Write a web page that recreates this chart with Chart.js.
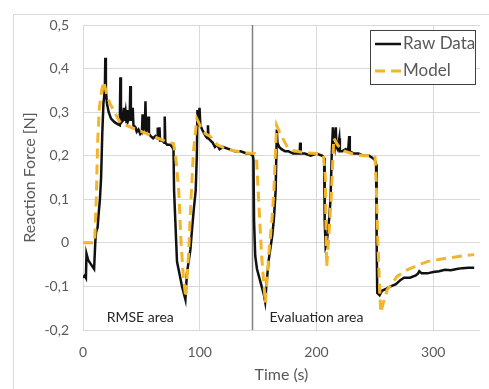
<!DOCTYPE html>
<html>
<head>
<meta charset="utf-8">
<script src="https://cdn.jsdelivr.net/npm/chart.js@4/dist/chart.umd.min.js"></script>
<style>
    html, body { margin: 0; padding: 0; background: #fff; overflow: hidden; }
    #wrap { position: relative; width: 489px; height: 389px; }
</style>
</head>
<body>
<div id="wrap"><canvas id="forceChart" width="489" height="389"></canvas></div>
<script>
// ========================================
// DATA
// ========================================
const rawTime = [0, 1.5, 2.5, 3, 4.5, 7, 9.5, 10.5, 11.2, 12.5, 13.5, 14.5, 15.5, 16.5, 17.5, 18.7, 19.1, 19.6, 20.5, 22, 24, 27, 30, 31.5, 32, 32.5, 34, 35, 35.5, 36.5, 37.3, 38, 38.6, 40, 40.5, 41, 42, 42.6, 43.2, 45, 46, 47.5, 49, 50.5, 51, 51.7, 53, 53.5, 54, 55, 55.8, 56.5, 58, 60, 62, 63.5, 64, 64.5, 65.5, 66, 68, 69.5, 70, 70.5, 72, 75, 77.5, 78, 80.5, 84.8, 87.7, 89, 92, 93.5, 95, 96.5, 97.5, 98, 98.6, 99.3, 99.8, 100.5, 102, 104, 105, 106.5, 107, 107.5, 109, 111, 113, 115, 117, 120, 125, 130, 135, 140, 143, 145.5, 146, 146.5, 147.5, 149, 152, 155, 156, 157, 159, 162, 163.5, 165, 166, 166.5, 168, 170, 173, 176, 180, 184, 185.5, 186, 186.5, 190, 195, 200, 205, 206.5, 207, 207.8, 208.5, 209.5, 211, 212, 213, 214, 214.7, 215.5, 216.5, 217, 218, 219.5, 220, 222, 225, 227, 228, 228.5, 232, 236, 240, 245, 248, 250, 251, 251.5, 252, 254, 256, 260, 263.5, 268, 272, 275, 280, 285, 287, 288, 290, 295, 300, 305, 310, 315, 320, 325, 330, 335];
const rawForce = [-0.08, -0.075, -0.08, -0.025, -0.04, -0.05, -0.06, 0.0, 0.025, 0.035, 0.07, 0.1, 0.15, 0.25, 0.32, 0.35, 0.425, 0.35, 0.32, 0.3, 0.285, 0.277, 0.272, 0.27, 0.38, 0.275, 0.28, 0.31, 0.28, 0.3, 0.275, 0.305, 0.28, 0.29, 0.36, 0.28, 0.3, 0.31, 0.27, 0.265, 0.255, 0.26, 0.25, 0.255, 0.295, 0.26, 0.27, 0.325, 0.255, 0.275, 0.29, 0.25, 0.245, 0.24, 0.245, 0.24, 0.265, 0.24, 0.265, 0.235, 0.235, 0.23, 0.29, 0.23, 0.225, 0.225, 0.215, 0.12, -0.043, -0.1, -0.13, -0.07, -0.015, 0.035, 0.08, 0.12, 0.2, 0.305, 0.27, 0.29, 0.31, 0.27, 0.26, 0.25, 0.245, 0.24, 0.27, 0.24, 0.235, 0.23, 0.22, 0.225, 0.215, 0.22, 0.215, 0.21, 0.21, 0.205, 0.205, 0.2, 0.19, 0.05, -0.03, -0.06, -0.09, -0.12, -0.135, -0.1, -0.04, 0.015, 0.055, 0.12, 0.26, 0.23, 0.22, 0.215, 0.21, 0.21, 0.205, 0.205, 0.205, 0.23, 0.205, 0.205, 0.2, 0.205, 0.2, 0.195, 0.05, -0.01, -0.005, 0.02, 0.06, 0.1, 0.2, 0.265, 0.23, 0.22, 0.265, 0.22, 0.215, 0.24, 0.21, 0.21, 0.215, 0.21, 0.245, 0.21, 0.205, 0.205, 0.2, 0.2, 0.195, 0.19, 0.18, 0.0, -0.115, -0.12, -0.11, -0.105, -0.1, -0.095, -0.085, -0.08, -0.08, -0.075, -0.07, -0.065, -0.07, -0.07, -0.067, -0.065, -0.062, -0.063, -0.06, -0.058, -0.057, -0.057];

const modelTime = [0, 10, 11.5, 12.5, 14, 16, 17.7, 20, 23, 26, 32, 43, 57.7, 72, 77.5, 79, 80, 82, 84, 86, 88, 90.3, 92.5, 94.6, 97.5, 100.7, 105, 109, 115, 123, 140, 147, 148.5, 150, 153, 156.2, 159, 162, 163.5, 165.8, 169, 175, 180, 190, 200, 206, 207.5, 208, 208.7, 210.3, 212.5, 214.8, 218, 222, 230, 240, 250, 251, 252.5, 254, 255, 257, 260.5, 269, 277.6, 286, 295, 312, 325, 335];
const modelForce = [0, 0, 0.11, 0.23, 0.31, 0.35, 0.37, 0.345, 0.32, 0.305, 0.275, 0.263, 0.247, 0.232, 0.228, 0.205, 0.18, 0.12, 0.0, -0.08, -0.125, -0.03, 0.1, 0.21, 0.285, 0.267, 0.25, 0.244, 0.225, 0.215, 0.206, 0.205, 0.2, 0.12, -0.03, -0.138, -0.03, 0.06, 0.12, 0.27, 0.25, 0.22, 0.212, 0.207, 0.205, 0.2, 0.15, 0.05, -0.055, 0.005, 0.1, 0.24, 0.225, 0.212, 0.205, 0.2, 0.2, 0.15, 0.0, -0.1, -0.16, -0.14, -0.108, -0.077, -0.062, -0.052, -0.043, -0.035, -0.03, -0.027];

const xTicks = [0, 100, 200, 300];
const yTicks = [-0.2, -0.1, 0, 0.1, 0.2, 0.3, 0.4, 0.5];
const seriesNames = ['Raw Data', 'Model'];
const splitTime = 145;            // boundary between RMSE and evaluation parts
const areaLabels = [
    { text: 'RMSE area', x: 49, y: -0.172 },
    { text: 'Evaluation area', x: 200, y: -0.172 }
];

// ========================================
// STYLE
// ========================================
const FONT = 'Lato, "Open Sans", sans-serif';
const GREY_TEXT = '#595959';
const GRID = '#d9d9d9';
const RAW_COLOR = '#111111';
const MODEL_COLOR = '#f2b52c';

function toPoints(xs, ys) {
    return xs.map((x, i) => ({ x: x, y: ys[i] }));
}

function formatComma(v) {
    const r = Math.round(v * 10) / 10;
    if (r === 0) return '0';
    return r.toFixed(1).replace('.', ',');
}

// ========================================
// EXTRA DRAWING (frame, split line, labels, legend, titles)
// ========================================
const decorPlugin = {
    id: 'decor',
    beforeDraw(chart) {
        const ctx = chart.ctx;
        ctx.save();
        ctx.strokeStyle = '#d9d9d9';
        ctx.lineWidth = 1;
        ctx.strokeRect(13.5, 14.5, 700, 700);
        ctx.restore();
    },
    beforeDatasetsDraw(chart) {
        const ctx = chart.ctx;
        const area = chart.chartArea;
        const xs = chart.scales.x;
        const px = Math.round(xs.getPixelForValue(splitTime)) + 0.5;
        ctx.save();
        ctx.strokeStyle = '#7f7f7f';
        ctx.lineWidth = 1.5;
        ctx.beginPath();
        ctx.moveTo(px, area.top);
        ctx.lineTo(px, area.bottom);
        ctx.stroke();
        ctx.restore();
    },
    afterDraw(chart) {
        const ctx = chart.ctx;
        const area = chart.chartArea;
        const xs = chart.scales.x;
        const ys = chart.scales.y;

        ctx.save();
        // area labels
        ctx.fillStyle = '#262626';
        ctx.font = '14px ' + FONT;
        ctx.textAlign = 'center';
        ctx.textBaseline = 'middle';
        areaLabels.forEach(l => {
            ctx.fillText(l.text, xs.getPixelForValue(l.x), ys.getPixelForValue(l.y));
        });

        // axis titles
        ctx.fillStyle = GREY_TEXT;
        ctx.font = '16px ' + FONT;
        ctx.fillText('Time (s)', (area.left + area.right) / 2, 375);
        ctx.translate(30, (area.top + area.bottom) / 2);
        ctx.rotate(-Math.PI / 2);
        ctx.fillText('Reaction Force [N]', 0, 0);
        ctx.restore();

        // legend box
        ctx.save();
        ctx.fillStyle = '#ffffff';
        ctx.fillRect(370, 30, 105, 54);
        ctx.strokeStyle = '#404040';
        ctx.lineWidth = 1;
        ctx.strokeRect(370.5, 30.5, 105, 54);

        ctx.lineWidth = 2.5;
        ctx.strokeStyle = RAW_COLOR;
        ctx.beginPath();
        ctx.moveTo(375, 44);
        ctx.lineTo(401, 44);
        ctx.stroke();

        ctx.lineWidth = 3;
        ctx.strokeStyle = MODEL_COLOR;
        ctx.setLineDash([10, 6]);
        ctx.beginPath();
        ctx.moveTo(375, 71);
        ctx.lineTo(402, 71);
        ctx.stroke();
        ctx.setLineDash([]);

        ctx.fillStyle = GREY_TEXT;
        ctx.font = '17px ' + FONT;
        ctx.textAlign = 'left';
        ctx.textBaseline = 'middle';
        ctx.fillText(seriesNames[0], 403, 44);
        ctx.fillText(seriesNames[1], 403, 71);
        ctx.restore();
    }
};

// ========================================
// INITIALIZE CHART
// ========================================
function initForceChart() {
    const ctx = document.getElementById('forceChart');
    if (!ctx || typeof Chart === 'undefined') {
        console.error('Chart.js not loaded or canvas not found');
        return;
    }

    window.forceChart = new Chart(ctx, {
        type: 'line',
        data: {
            datasets: [
                {
                    label: seriesNames[0],
                    data: toPoints(rawTime, rawForce),
                    borderColor: RAW_COLOR,
                    borderWidth: 2.5,
                    pointRadius: 0,
                    tension: 0,
                    fill: false,
                    order: 1
                },
                {
                    label: seriesNames[1],
                    data: toPoints(modelTime, modelForce),
                    borderColor: MODEL_COLOR,
                    borderWidth: 3,
                    borderDash: [10, 6],
                    pointRadius: 0,
                    tension: 0,
                    fill: false,
                    order: 0
                }
            ]
        },
        options: {
            responsive: false,
            animation: false,
            layout: { padding: { top: 25, right: 9, left: 0, bottom: 0 } },
            plugins: {
                legend: { display: false },
                tooltip: { enabled: false }
            },
            scales: {
                x: {
                    type: 'linear',
                    min: 0,
                    max: 340,
                    afterBuildTicks: scale => { scale.ticks = xTicks.map(v => ({ value: v })); },
                    afterFit: scale => { scale.height = 59; },
                    ticks: {
                        color: GREY_TEXT,
                        font: { family: FONT, size: 14 },
                        padding: 14,
                        maxRotation: 0
                    },
                    grid: { color: GRID, drawTicks: false },
                    border: { display: false }
                },
                y: {
                    min: -0.2,
                    max: 0.5,
                    afterBuildTicks: scale => { scale.ticks = yTicks.map(v => ({ value: v })); },
                    afterFit: scale => { scale.width = 83; },
                    ticks: {
                        color: GREY_TEXT,
                        font: { family: FONT, size: 14 },
                        padding: 14,
                        callback: v => formatComma(v)
                    },
                    grid: { color: GRID, drawTicks: false },
                    border: { display: false }
                }
            }
        },
        plugins: [decorPlugin]
    });
}

document.addEventListener('DOMContentLoaded', initForceChart);
</script>
</body>
</html>
